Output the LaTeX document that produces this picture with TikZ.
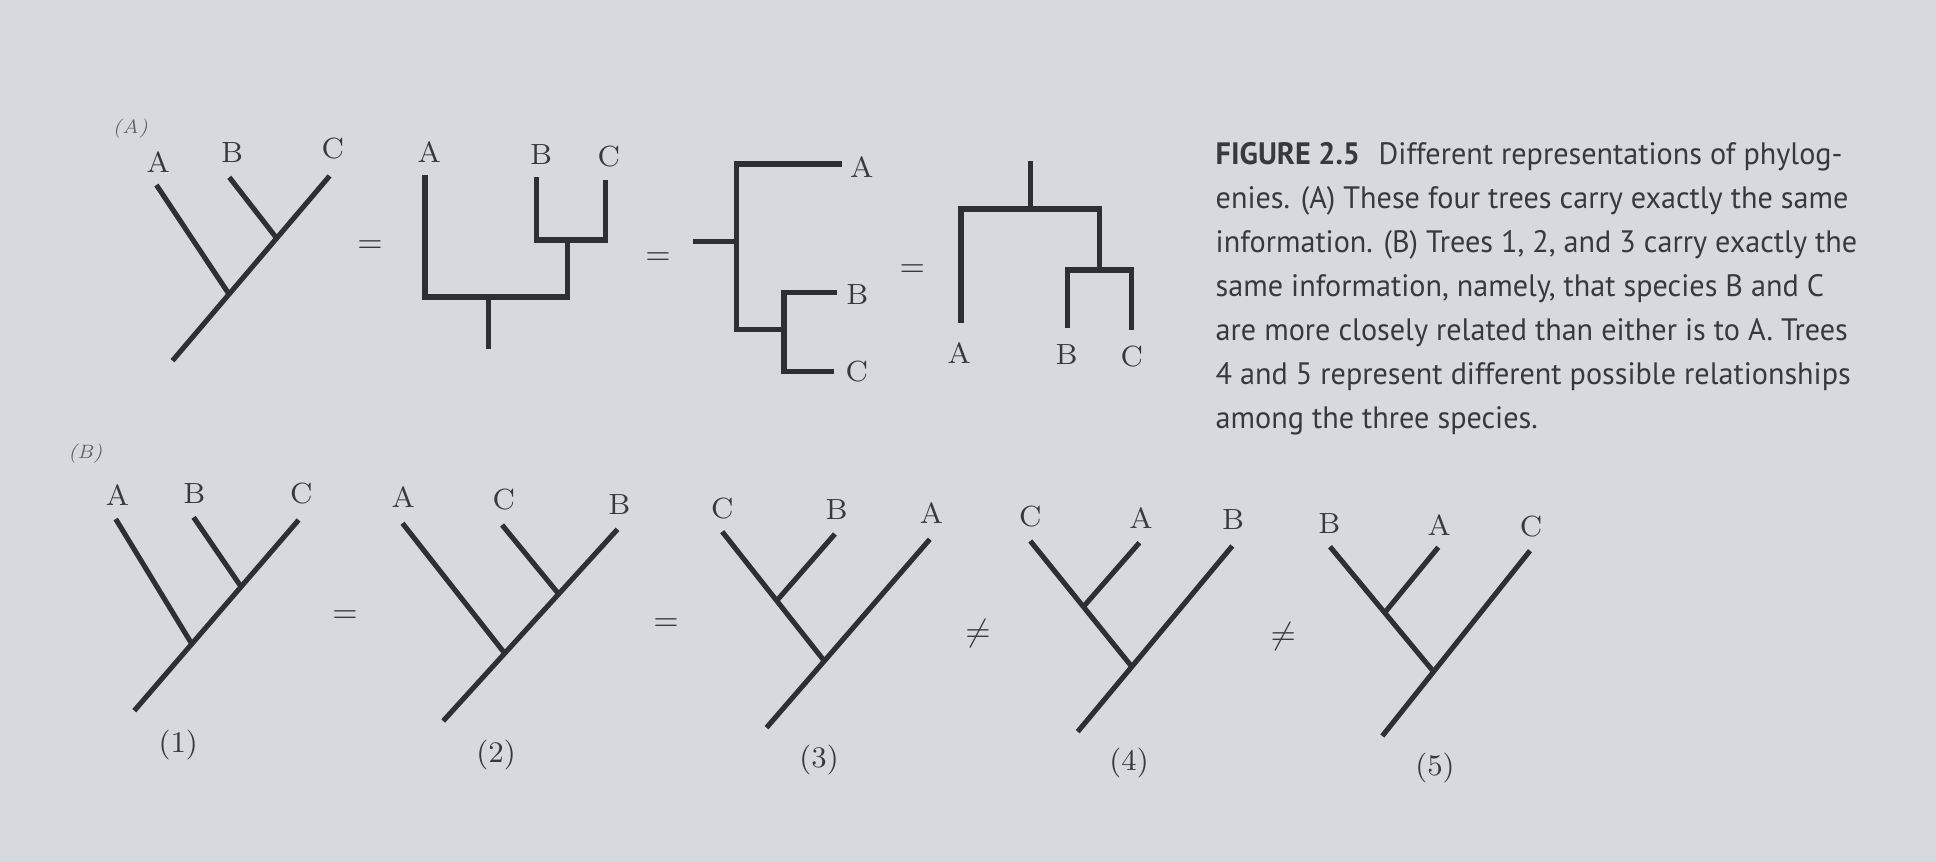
\documentclass[tikz,border=0pt]{standalone}
\usepackage{fontspec}
\newfontfamily\capfont{PT Sans}[FakeStretch=0.975]
\usetikzlibrary{positioning,calc}
\definecolor{cpage}{HTML}{D6DADF}
\definecolor{cink}{HTML}{2E2F33}
\definecolor{ctext}{HTML}{38393D}

\begin{document}
\begin{tikzpicture}[x=0.01cm, y=-0.01cm,
  branch/.style={draw=cink, line width=1.45pt},
  taxon/.style={font=\fontsize{8.3}{9}\selectfont, text=ctext, inner sep=0pt},
  rel/.style={font=\fontsize{9}{10}\selectfont, text=ctext, inner sep=0pt},
  num/.style={font=\fontsize{8.5}{10}\selectfont, text=ctext, inner sep=0pt},
  panel/.style={font=\fontsize{5.5}{6}\selectfont\itshape, text=ctext!80, inner sep=0pt},
  caption/.style={font=\capfont\fontsize{8.8}{12.5}\selectfont, text=ctext, align=left,
                  anchor=north west, inner sep=0pt},
]
\fill[cpage] (0,0) rectangle (1936,862);
\useasboundingbox (0,0) rectangle (1936,862);

% ------------------------------------------------------------ panel A
\node[panel] (pA) at (130.4,128.3) {(A)};

% slanted tree
\coordinate (a1r) at (172.5,360.7);
\coordinate (a1A) at (156.4,185);
\coordinate (a1B) at (229.3,177.3);
\coordinate (a1C) at (329.6,176);
\coordinate (a1j) at ($(a1r)!0.36!(a1C)$);
\coordinate (a1k) at ($(a1r)!0.663!(a1C)$);
\draw[branch] (a1r) -- (a1C);
\draw[branch] (a1A) -- (a1j);
\draw[branch] (a1B) -- (a1k);
\node[taxon] (la1A) at (158.2,162) {A};
\node[taxon] (la1B) at (232.1,153) {B};
\node[taxon] (la1C) at (332.9,149) {C};

\node[rel] (eqa1) at (370,247) {$=$};

% upright square tree
\coordinate (a2r) at (488.6,349.3);
\coordinate (a2m) at (488.6,297);
\coordinate (a2n) at (567.9,240);
\coordinate (a2A) at (425,175);
\coordinate (a2B) at (536.4,177.3);
\coordinate (a2C) at (605.4,180);
\draw[branch] (a2A) |- (a2m) -| (a2n);
\draw[branch] (a2B) |- (a2n) -| (a2C);
\draw[branch] (a2m) -- (a2r);
\node[taxon] (la2A) at (429.3,151.7) {A};
\node[taxon] (la2B) at (541.1,155) {B};
\node[taxon] (la2C) at (608.9,156.7) {C};

\node[rel] (eqa2) at (658,259) {$=$};

% sideways square tree
\coordinate (a3r) at (692.7,241.7);
\coordinate (a3m) at (736.7,241.7);
\coordinate (a3n) at (784,329.3);
\coordinate (a3A) at (841.7,164);
\coordinate (a3B) at (836.7,292.3);
\coordinate (a3C) at (834,371.7);
\draw[branch] (a3A) -| (a3m) |- (a3n);
\draw[branch] (a3B) -| (a3n) |- (a3C);
\draw[branch] (a3r) -- (a3m);
\node[taxon] (la3A) at (861.7,166.7) {A};
\node[taxon] (la3B) at (857.3,295) {B};
\node[taxon] (la3C) at (856.7,371.7) {C};

\node[rel] (eqa3) at (912.3,270.7) {$=$};

% hanging square tree
\coordinate (a4r) at (1030.7,160.7);
\coordinate (a4m) at (1030.7,209);
\coordinate (a4n) at (1099.3,270);
\coordinate (a4A) at (961,323.3);
\coordinate (a4B) at (1067.3,328.3);
\coordinate (a4C) at (1131.7,330);
\draw[branch] (a4A) |- (a4m) -| (a4n);
\draw[branch] (a4B) |- (a4n) -| (a4C);
\draw[branch] (a4r) -- (a4m);
\node[taxon] (la4A) at (959.3,353.3) {A};
\node[taxon] (la4B) at (1066.7,355) {B};
\node[taxon] (la4C) at (1131.7,356.7) {C};

% ------------------------------------------------------------ caption
\node[caption] (cap) at (1215,142) {%
  {\bfseries FIGURE 2.5}\hspace{0.6em}Different representations of phylog-\\
  enies. (A) These four trees carry exactly the same\\
  information. (B) Trees 1, 2, and 3 carry exactly the\\
  same information, namely, that species B and C\\
  are more closely related than either is to A. Trees\\
  4 and 5 represent different possible relationships\\
  among the three species.};

% ------------------------------------------------------------ panel B
\node[panel] (pB) at (85.4,453.3) {(B)};

% tree 1
\coordinate (b1r) at (134.3,710.7);
\coordinate (b1A) at (115.7,519);
\coordinate (b1B) at (193.6,517.3);
\coordinate (b1C) at (298.6,520);
\coordinate (b1j) at ($(b1r)!0.35!(b1C)$);
\coordinate (b1k) at ($(b1r)!0.65!(b1C)$);
\draw[branch] (b1r) -- (b1C);
\draw[branch] (b1A) -- (b1j);
\draw[branch] (b1B) -- (b1k);
\node[taxon] (lb1A) at (117.5,495) {A};
\node[taxon] (lb1B) at (194.3,493.3) {B};
\node[taxon] (lb1C) at (301.4,493.3) {C};
\node[num] (n1) at (178.2,745) {(1)};

\node[rel] (eqb1) at (345,616.7) {$=$};

% tree 2
\coordinate (b2r) at (443.2,721);
\coordinate (b2A) at (402.5,523.3);
\coordinate (b2C) at (502.1,525);
\coordinate (b2B) at (617.5,529.3);
\coordinate (b2j) at ($(b2r)!0.353!(b2B)$);
\coordinate (b2k) at ($(b2r)!0.6625!(b2B)$);
\draw[branch] (b2r) -- (b2B);
\draw[branch] (b2A) -- (b2j);
\draw[branch] (b2C) -- (b2k);
\node[taxon] (lb2A) at (403.2,496.7) {A};
\node[taxon] (lb2C) at (503.9,500) {C};
\node[taxon] (lb2B) at (619.3,505) {B};
\node[num] (n2) at (496.1,755) {(2)};

\node[rel] (eqb2) at (666,625) {$=$};

% tree 3
\coordinate (b3r) at (766.5,727.7);
\coordinate (b3C) at (722.2,531.7);
\coordinate (b3B) at (834.9,534);
\coordinate (b3A) at (929.8,539.3);
\coordinate (b3j) at ($(b3r)!0.354!(b3A)$);
\coordinate (b3k) at ($(b3j)!0.466!(b3C)$);
\draw[branch] (b3r) -- (b3A);
\draw[branch] (b3C) -- (b3j);
\draw[branch] (b3B) -- (b3k);
\node[taxon] (lb3C) at (722.2,508.3) {C};
\node[taxon] (lb3B) at (836.5,510) {B};
\node[taxon] (lb3A) at (931.4,513.3) {A};
\node[num] (n3) at (819.1,760) {(3)};

\node[rel] (neb3) at (978,633.3) {$\neq$};

% tree 4
\coordinate (b4r) at (1077.7,731.7);
\coordinate (b4C) at (1030.3,541);
\coordinate (b4A) at (1139.4,542.7);
\coordinate (b4B) at (1232.3,546);
\coordinate (b4j) at ($(b4r)!0.35!(b4B)$);
\coordinate (b4k) at ($(b4j)!0.477!(b4C)$);
\draw[branch] (b4r) -- (b4B);
\draw[branch] (b4C) -- (b4j);
\draw[branch] (b4A) -- (b4k);
\node[taxon] (lb4C) at (1030.3,516.7) {C};
\node[taxon] (lb4A) at (1141,518.3) {A};
\node[taxon] (lb4B) at (1233.1,520) {B};
\node[num] (n4) at (1129.1,762.7) {(4)};

\node[rel] (neb4) at (1283.3,636.7) {$\neq$};

% tree 5
\coordinate (b5r) at (1382.3,736);
\coordinate (b5B) at (1330,546.7);
\coordinate (b5A) at (1438.3,547.3);
\coordinate (b5C) at (1530,550.7);
\coordinate (b5j) at ($(b5r)!0.347!(b5C)$);
\coordinate (b5k) at ($(b5j)!0.472!(b5B)$);
\draw[branch] (b5r) -- (b5C);
\draw[branch] (b5B) -- (b5j);
\draw[branch] (b5A) -- (b5k);
\node[taxon] (lb5B) at (1329.3,523.3) {B};
\node[taxon] (lb5A) at (1439.3,525) {A};
\node[taxon] (lb5C) at (1531,526.7) {C};
\node[num] (n5) at (1435,768.3) {(5)};

\end{tikzpicture}
\end{document}
